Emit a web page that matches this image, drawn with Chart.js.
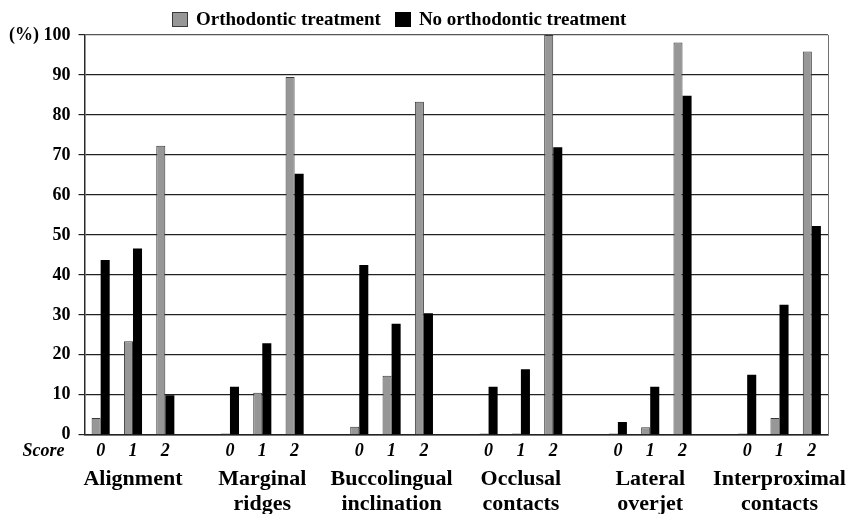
<!DOCTYPE html>
<html>
<head>
<meta charset="utf-8">
<script src="https://cdn.jsdelivr.net/npm/chart.js@4.4.0/dist/chart.umd.min.js"></script>
<style>
  html, body { margin: 0; padding: 0; background: #fff; }
  #wrap { position: relative; width: 847px; height: 514px; }
  #legend { position: absolute; left: 172px; top: 8px; font: bold 19px "Liberation Serif", serif; color: #000; white-space: nowrap; }
  #legend span.item { display: inline-flex; align-items: center; margin-right: 14px; }
  #legend span.box { display: inline-block; width: 14px; height: 13px; margin-right: 8px; border: 1px solid #333; }
</style>
</head>
<body>
<div id="wrap">
  <canvas id="bar-chart" width="847" height="514"></canvas>
  <div id="legend"></div>
</div>
<script>
// criteria and score categories
var groups = [['Alignment'], ['Marginal', 'ridges'], ['Buccolingual', 'inclination'],
              ['Occlusal', 'contacts'], ['Lateral', 'overjet'], ['Interproximal', 'contacts']];
var scores = ['0', '1', '2'];

// % of teeth per score, 3 values per criterion
var orthoValues = [4.2, 23.4, 72.3,  0.3, 10.5, 89.5,  2.0, 14.8, 83.3,
                   0.3, 0.3, 100,  0.3, 1.9, 98.1,  0.3, 4.2, 95.9];
var noOrthoValues = [43.7, 46.6, 9.9,  12.0, 22.9, 65.3,  42.5, 27.8, 30.4,
                     12.0, 16.4, 71.9,  3.2, 12.0, 84.8,  15.0, 32.5, 52.2];

var yTicks = [0, 10, 20, 30, 40, 50, 60, 70, 80, 90, 100];

// one slot per score plus an empty slot between criteria
var slotScore = [], slotGroup = [], slotKeys = [], orthoData = [], noOrthoData = [];
groups.forEach(function (g, gi) {
  scores.forEach(function (s, si) {
    slotScore.push(s);
    slotGroup.push(si === 1 ? g : '');
    slotKeys.push(g.join(' ') + ' ' + s);
    orthoData.push(orthoValues[gi * 3 + si]);
    noOrthoData.push(noOrthoValues[gi * 3 + si]);
  });
  if (gi < groups.length - 1) {
    slotScore.push('');
    slotGroup.push('');
    slotKeys.push('gap ' + gi);
    orthoData.push(null);
    noOrthoData.push(null);
  }
});

var serif = '"Liberation Serif", "Times New Roman", serif';

var scoreLabel = {
  id: 'scoreLabel',
  afterDraw: function (chart) {
    var ctx = chart.ctx;
    var xs = chart.scales.x;
    ctx.save();
    ctx.font = 'italic bold 18px ' + serif;
    ctx.fillStyle = '#000';
    ctx.textAlign = 'right';
    ctx.textBaseline = 'middle';
    ctx.fillText('Score', chart.chartArea.left - 20, xs.top + 6 + 10.8);
    ctx.restore();
  }
};

var ctx = document.getElementById('bar-chart').getContext('2d');

var barChart = new Chart(ctx, {
  type: 'bar',
  data: {
    labels: slotKeys,
    datasets: [{
      label: 'Orthodontic treatment',
      data: orthoData,
      backgroundColor: '#979797',
      borderColor: '#3a3a3a',
      borderWidth: 1
    }, {
      label: 'No orthodontic treatment',
      data: noOrthoData,
      backgroundColor: '#000000',
      borderColor: '#000000',
      borderWidth: 0
    }]
  },
  options: {
    responsive: false,
    animation: false,
    layout: { padding: { top: 35, left: 1, right: 19, bottom: -1 } },
    categoryPercentage: 0.56,
    barPercentage: 1.0,
    plugins: {
      legend: { display: false },
      tooltip: { enabled: false }
    },
    scales: {
      x: {
        offset: true,
        weight: 0,
        grid: { display: false, drawTicks: false },
        border: { display: true, color: '#222', width: 1.5 },
        ticks: {
          autoSkip: false, maxRotation: 0, minRotation: 0, padding: 6, color: '#000',
          font: { family: serif, size: 18, weight: 'bold', style: 'italic', lineHeight: 1.2 },
          callback: function (v, i) { return slotScore[i]; }
        }
      },
      x2: {
        type: 'category',
        position: 'bottom',
        offset: true,
        weight: 1,
        grid: { display: false, drawTicks: false },
        border: { display: false },
        ticks: {
          autoSkip: false, maxRotation: 0, minRotation: 0, padding: -2, color: '#000',
          font: { family: serif, size: 22, weight: 'bold', lineHeight: 1.15 },
          callback: function (v, i) { return slotGroup[i]; }
        }
      },
      y: {
        min: 0,
        max: 100,
        afterBuildTicks: function (axis) {
          axis.ticks = yTicks.map(function (v) { return { value: v }; });
        },
        grid: {
          color: function (c) { return c.tick && c.tick.value === 100 ? '#555' : '#222'; },
          lineWidth: 1.2, drawTicks: true, tickLength: 6, tickColor: '#222'
        },
        border: { display: true, color: '#2a2a2a', width: 1.5 },
        ticks: {
          padding: 8, color: '#000',
          font: { family: serif, size: 18, weight: 'bold' },
          callback: function (v) { return v === 100 ? '(%) 100' : v; }
        }
      },
      yRight: {
        position: 'right',
        min: 0,
        max: 100,
        grid: { display: false, drawTicks: false },
        border: { display: true, color: '#707070', width: 1 },
        ticks: { display: false }
      }
    }
  },
  plugins: [scoreLabel]
});

// legend above the plot, built from the datasets
var legendEl = document.getElementById('legend');
barChart.data.datasets.forEach(function (ds) {
  var item = document.createElement('span');
  item.className = 'item';
  var box = document.createElement('span');
  box.className = 'box';
  box.style.background = ds.backgroundColor;
  box.style.borderColor = ds.borderWidth ? ds.borderColor : ds.backgroundColor;
  item.appendChild(box);
  item.appendChild(document.createTextNode(ds.label));
  legendEl.appendChild(item);
});
</script>
</body>
</html>
